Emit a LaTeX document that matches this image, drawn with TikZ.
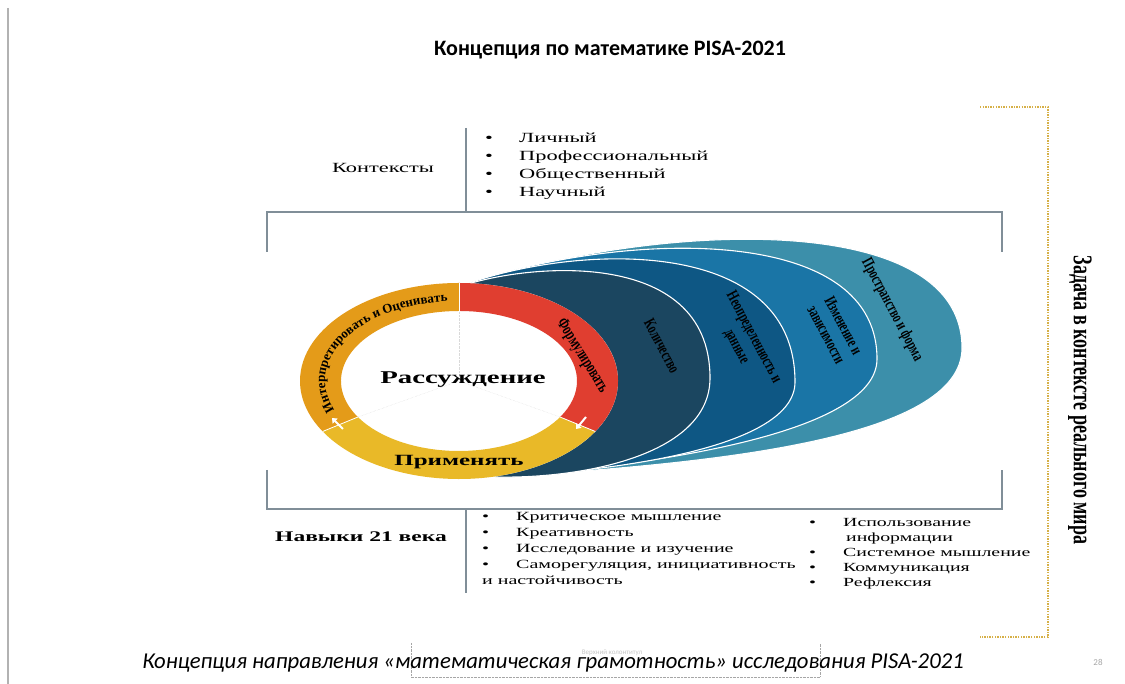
\documentclass[tikz,border=0pt]{standalone}
\usepackage{fontspec}
\setmainfont{Liberation Serif}
\newfontfamily\picfont[FakeStretch=1.6]{Liberation Serif}
\newfontfamily\slidefont{Carlito}
\usetikzlibrary{arrows.meta,decorations.text}

\definecolor{ringorange}{RGB}{228,155,25}
\definecolor{ringred}{RGB}{224,62,48}
\definecolor{ringyellow}{RGB}{233,185,40}
\definecolor{blueA}{RGB}{27,70,96}
\definecolor{blueB}{RGB}{14,87,132}
\definecolor{blueC}{RGB}{26,117,166}
\definecolor{blueD}{RGB}{60,143,170}
\definecolor{framegray}{RGB}{128,142,152}
\definecolor{gold}{RGB}{214,176,72}

% one coloured piece of the ring, from angle #2 to angle #3
\newcommand\ringpart[3]{%
  \fill[#1] ([shift={(#2:159 and 98)}]ringc) arc[start angle=#2, end angle=#3, x radius=159, y radius=98]
    -- ([shift={(#3:118 and 70)}]ringc) arc[start angle=#3, end angle=#2, x radius=118, y radius=70] -- cycle;}
% one crescent: right end #2, controls of the top #3 #4, of the bottom #5 #6
\newcommand\crescentpart[6]{%
  \fill[#1, crescent] (456,396) .. controls #3 and #4 .. #2 .. controls #5 and #6 .. (495,207) -- cycle;}
\newcommand\itm{\makebox[34pt][l]{\textbullet}}

\tikzset{
  frameline/.style={framegray, line width=1.5pt},
  goldline/.style={gold, line width=1.8pt, dash pattern=on 1.4pt off 1.2pt},
  crescent/.style={draw=white, line width=1.1pt},
  bandtext/.style={font=\bfseries\fontsize{11}{13}\selectfont, align=center, inner sep=0pt},
  cyclearrow/.style={white, line width=2pt, -{Triangle[length=4.5pt,width=7pt]}},
  listtext/.style={anchor=base west, inner sep=0pt},
}

\begin{document}
\begin{tikzpicture}[x=1pt, y=1pt]
\useasboundingbox (0,0) rectangle (1125,684);

\draw[gray!60, line width=2pt] (8,676) -- (8,0);
\node[font=\slidefont\bfseries\fontsize{22}{24}\selectfont] (title) at (610,634) {Концепция по математике PISA-2021};

% contexts
\draw[frameline] (466,556) -- (466,472);
\node[font=\picfont\fontsize{14}{18}\selectfont] (ctxlabel) at (383,516) {Контексты};
\node[listtext, font=\picfont\fontsize{14}{18}\selectfont] (ctxlist) at (485,541) {\begin{tabular}[t]{@{}l@{}}
\itm Личный\\ \itm Профессиональный\\ \itm Общественный\\ \itm Научный
\end{tabular}};

% frame round the middle
\draw[frameline] (267,432) -- (267,472) -- (1002,472) -- (1002,432);
\draw[frameline] (267,214) -- (267,175) -- (1002,175) -- (1002,214);

% crescents, lightest at the back
\crescentpart{blueD}{(962,336)}{(640,460)}{(962,480)}{(962,244)}{(710,220)}
\crescentpart{blueC}{(877,325)}{(600,450)}{(877,468)}{(877,250)}{(650,218)}
\crescentpart{blueB}{(795,302)}{(560,438)}{(795,455)}{(795,237)}{(620,213)}
\crescentpart{blueA}{(710,306)}{(520,420)}{(710,440)}{(710,228)}{(580,205)}

\node[bandtext, rotate=-62, yscale=1.5] (qty) at (662,338) {Количество};
\node[bandtext, rotate=-62, yscale=1.5] (data) at (745,342) {Неопределенность и\\данные};
\node[bandtext, rotate=-62, yscale=1.5] (change) at (835,354) {Изменение и\\зависимости};
\node[bandtext, rotate=-62, yscale=1.5] (space) at (892,374) {Пространство и форма};

% ring
\coordinate (ringc) at (459,303);
\fill[white] (ringc) ellipse[x radius=159, y radius=98];
\ringpart{ringorange}{90}{211}
\ringpart{ringred}{-31}{90}
\ringpart{ringyellow}{211}{329}
\foreach \a in {90,211,329}{
  \draw[white, line width=0.8pt] ([shift={(\a:118 and 70)}]ringc) -- ([shift={(\a:159 and 98)}]ringc);
  \draw[gray!30, densely dotted] (ringc) -- ([shift={(\a:118 and 70)}]ringc);
}
\draw[cyclearrow] (586,267) -- (576,255);
\draw[cyclearrow] (343,255) -- (332,266);

\path[decorate, decoration={text along path, text align=center,
  text={|\bfseries\fontsize{13}{13}\selectfont|Интерпретировать и Оценивать}}]
  ([shift={(206:134 and 80)}]ringc) arc[start angle=206, end angle=92, x radius=134, y radius=80];
\node[bandtext, font=\bfseries\fontsize{11.5}{12}\selectfont, rotate=-58, yscale=1.5] (formulate) at (582,328) {Формулировать};
\node[font=\picfont\bfseries\fontsize{18}{20}\selectfont] (reason) at (463,304) {Рассуждение};
\node[font=\picfont\bfseries\fontsize{15.6}{18}\selectfont] (apply) at (459,222) {Применять};

% skills
\draw[frameline] (466,175) -- (466,91);
\node[font=\picfont\bfseries\fontsize{14.7}{16}\selectfont] (skills) at (361,147) {Навыки 21 века};
\node[listtext, font=\picfont\fontsize{12.5}{16}\selectfont] (skillsA) at (482,163) {\begin{tabular}[t]{@{}l@{}}
\itm Критическое мышление\\ \itm Креативность\\ \itm Исследование и изучение\\
\itm Саморегуляция, инициативность\\ и настойчивость
\end{tabular}};
\node[listtext, font=\picfont\fontsize{12.4}{15}\selectfont] (skillsB) at (809,157) {\begin{tabular}[t]{@{}l@{}}
\itm Использование\\ \hspace{37pt}информации\\ \itm Системное мышление\\ \itm Коммуникация\\ \itm Рефлексия
\end{tabular}};

% real world task
\draw[goldline] (980,577) -- (1048,577) -- (1048,47) -- (980,47);
\node[font=\bfseries\fontsize{18}{19}\selectfont, rotate=-90, yscale=1.5] (task) at (1080,284) {Задача в контексте реального мира};

% footer
\draw[gray!70, densely dotted] (411,41) -- (411,7) -- (820,7) -- (820,41);
\node[font=\slidefont\fontsize{7}{8}\selectfont, text=gray!45] (header) at (612,31) {Верхний колонтитул};
\node[font=\slidefont\itshape\fontsize{22.7}{25}\selectfont] (caption) at (553,21) {Концепция направления «математическая грамотность» исследования PISA-2021};
\node[font=\slidefont\fontsize{9}{10}\selectfont, text=gray!70] (pagenum) at (1098,22) {28};
\end{tikzpicture}
\end{document}
